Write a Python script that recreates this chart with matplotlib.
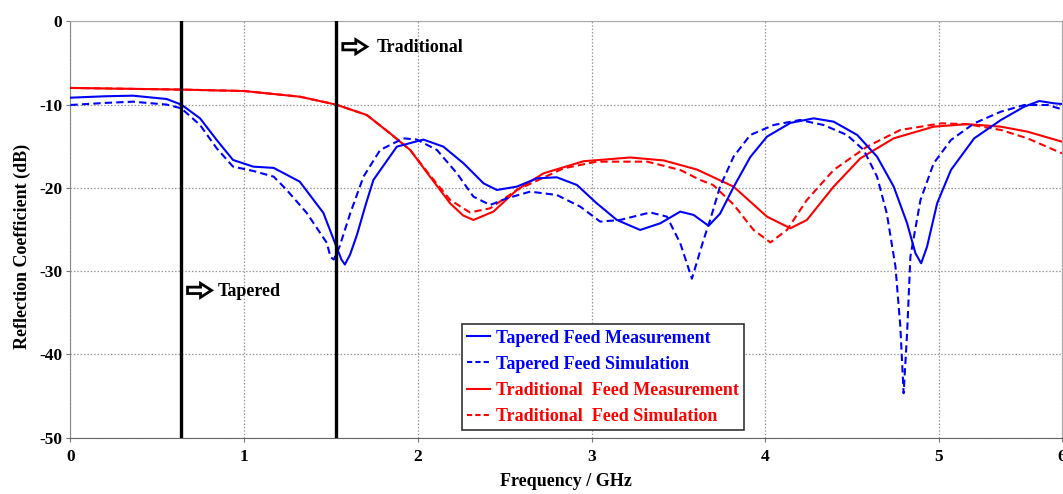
import numpy as np
import matplotlib
matplotlib.use("Agg")
import matplotlib.pyplot as plt
import matplotlib.transforms as mtransforms
from matplotlib.patches import Polygon
from matplotlib.lines import Line2D

# ---------------- data ----------------
tap_meas_x = [0, 0.2, 0.36, 0.554, 0.638, 0.746, 0.842, 0.936, 1.053, 1.17, 1.32, 1.456, 1.53, 1.56, 1.58, 1.61,
              1.65, 1.70, 1.744, 1.879, 2.032, 2.147, 2.263, 2.378, 2.455, 2.57, 2.686, 2.80, 2.916, 3.03, 3.146,
              3.28, 3.396, 3.511, 3.588, 3.674, 3.74, 3.818, 3.914, 4.01, 4.145, 4.279, 4.394, 4.53, 4.644, 4.74,
              4.817, 4.865, 4.898, 4.932, 4.99, 5.098, 5.287, 5.504, 5.694, 5.816, 5.938, 6.0]
tap_meas_y = [-9.17, -9.0, -8.93, -9.33, -10.0, -11.65, -14.25, -16.65, -17.45, -17.6, -19.25, -23.0, -27.0, -28.6,
              -29.2, -28.0, -25.6, -22.0, -19.05, -15.05, -14.2, -15.05, -17.05, -19.45, -20.25, -19.85, -18.85,
              -18.73, -19.65, -21.85, -23.85, -25.05, -24.25, -22.85, -23.25, -24.55, -23.1, -19.9, -16.3, -13.85,
              -12.2, -11.65, -12.05, -13.65, -16.25, -19.85, -24.25, -27.85, -29.05, -27.05, -21.85, -17.85, -14.05,
              -11.85, -10.25, -9.57, -9.85, -9.93]

tap_sim_x = [0, 0.2, 0.36, 0.554, 0.638, 0.746, 0.842, 0.936, 1.053, 1.17, 1.245, 1.36, 1.476, 1.497, 1.516, 1.55,
             1.61, 1.687, 1.783, 1.917, 1.994, 2.11, 2.225, 2.32, 2.416, 2.513, 2.647, 2.80, 2.935, 3.05, 3.165,
             3.338, 3.434, 3.511, 3.578, 3.645, 3.683, 3.74, 3.818, 3.914, 4.049, 4.20, 4.336, 4.471, 4.567, 4.644,
             4.70, 4.75, 4.778, 4.797, 4.817, 4.836, 4.894, 4.97, 5.098, 5.287, 5.504, 5.694, 5.884, 6.0]
tap_sim_y = [-10.05, -9.8, -9.65, -10.0, -10.45, -12.45, -15.25, -17.45, -17.97, -18.65, -20.25, -23.0, -26.6, -28.3,
             -28.6, -27.0, -23.1, -18.65, -15.45, -14.05, -14.2, -15.45, -18.25, -21.05, -22.05, -21.25, -20.45,
             -20.85, -22.25, -24.05, -23.85, -22.95, -23.45, -26.65, -30.9, -26.25, -23.85, -19.85, -16.25, -13.65,
             -12.45, -11.85, -12.45, -13.65, -15.45, -18.65, -23.05, -29.45, -36.65, -44.65, -37.45, -28.25, -21.45,
             -17.05, -14.25, -12.25, -10.85, -10.05, -10.05, -10.57]

trad_meas_x = [0, 0.638, 1.0, 1.32, 1.529, 1.706, 1.84, 1.956, 2.07, 2.186, 2.26, 2.32, 2.435, 2.57, 2.724, 2.954,
               3.223, 3.415, 3.607, 3.818, 4.01, 4.145, 4.24, 4.394, 4.548, 4.74, 4.97, 5.232, 5.504, 5.72, 6.0]
trad_meas_y = [-8.0, -8.2, -8.37, -9.05, -10.0, -11.25, -13.45, -15.45, -18.65, -21.85, -23.3, -23.85, -22.85,
               -20.25, -18.25, -16.8, -16.35, -16.7, -17.8, -19.85, -23.45, -24.85, -23.85, -19.85, -16.45, -14.05,
               -12.65, -12.35, -12.65, -13.25, -14.45]

trad_sim_x = [0, 0.638, 1.0, 1.32, 1.529, 1.706, 1.84, 1.956, 2.07, 2.186, 2.30, 2.416, 2.57, 2.839, 3.03, 3.32,
              3.511, 3.626, 3.70, 3.818, 3.933, 4.03, 4.125, 4.24, 4.394, 4.586, 4.778, 5.02, 5.232, 5.504, 5.72, 6.0]
trad_sim_y = [-8.0, -8.2, -8.37, -9.05, -10.0, -11.25, -13.45, -15.45, -18.5, -21.45, -22.95, -22.45, -20.25, -17.65,
              -16.85, -16.85, -17.85, -19.05, -19.65, -22.0, -25.05, -26.55, -25.05, -21.45, -17.85, -15.05, -13.05,
              -12.25, -12.35, -13.05, -14.05, -15.85]

marker_lines = [0.638, 1.529]
x_ticks = [0, 1, 2, 3, 4, 5, 6]
y_ticks = [0, -10, -20, -30, -40, -50]
labels = ["Tapered Feed Measurement", "Tapered Feed Simulation",
          "Traditional  Feed Measurement", "Traditional  Feed Simulation"]

# ---------------- figure ----------------
serif = ["Liberation Serif", "DejaVu Serif"]
plt.rcParams["font.family"] = serif
plt.rcParams["font.weight"] = "bold"
plt.rcParams["axes.unicode_minus"] = False

fig = plt.figure(figsize=(10.63, 4.94), dpi=100)
ax = fig.add_axes([0.0663, 0.1138, 0.9327, 0.8431])

# the reference's last interval (5 to 6) is drawn compressed
K = 0.7085
def fwd(x):
    x = np.asarray(x, dtype=float)
    return np.where(x <= 5, x, 5 + (x - 5) * K)
def inv(x):
    x = np.asarray(x, dtype=float)
    return np.where(x <= 5, x, 5 + (x - 5) / K)
ax.set_xscale("function", functions=(fwd, inv))

lw = 1.5
ax.plot(tap_meas_x, tap_meas_y, color="#0000ff", lw=lw, ls="-", label=labels[0], zorder=4)
ax.plot(tap_sim_x, tap_sim_y, color="#0000ff", lw=lw, ls=(0, (3.5, 2)), label=labels[1], zorder=4)
ax.plot(trad_meas_x, trad_meas_y, color="#ff0000", lw=lw, ls="-", label=labels[2], zorder=3)
ax.plot(trad_sim_x, trad_sim_y, color="#ff0000", lw=lw, ls=(0, (3.5, 2)), label=labels[3], zorder=3)

for xv in marker_lines:
    ax.axvline(xv, color="black", lw=2.4, zorder=5)

ax.set_xlim(0, 6)
ax.set_ylim(-50, 0)
ax.set_xticks(x_ticks)
ax.set_yticks(y_ticks)
ax.grid(True, color="#999999", ls=(0, (1.2, 1.5)), lw=0.9)
ax.tick_params(axis="both", labelsize=12.5, length=3, color="#777777", pad=3)
for lab in ax.get_xticklabels() + ax.get_yticklabels():
    lab.set_fontweight("bold")
ax.tick_params(axis="x", pad=5)
for s in ["left", "top", "right"]:
    ax.spines[s].set_color("#aaaaaa")
ax.spines["bottom"].set_color("#666666")
ax.spines["left"].set_color("#888888")

ax.set_xlabel("Frequency / GHz", fontsize=13, fontweight="bold", labelpad=6)
ax.set_ylabel("Reflection Coefficient (dB)", fontsize=13, fontweight="bold")
ax.yaxis.set_label_coords(-0.040, 0.46)

# hollow block arrows (shape in pixels at 100 dpi, anchored at a data point)
arrow_px = [(-12, -3.2), (1, -3.2), (1, -7), (12, 0), (1, 7), (1, 3.2), (-12, 3.2)]
def block_arrow(x, y):
    tr = fig.dpi_scale_trans + mtransforms.ScaledTranslation(x, y, ax.transData)
    pts = [(px / 100.0, py / 100.0) for px, py in arrow_px]
    ax.add_patch(Polygon(pts, closed=True, facecolor="white", edgecolor="black", lw=2.0,
                         transform=tr, zorder=6, clip_on=False))

block_arrow(0.743, -32.3)
ax.text(0.85, -32.4, "Tapered", fontsize=13, fontweight="bold", va="center", ha="left", zorder=6)
block_arrow(1.637, -3.05)
ax.text(1.764, -3.15, "Traditional", fontsize=13, fontweight="bold", va="center", ha="left", zorder=6)

handles = [Line2D([], [], color="#0000ff", lw=1.5, ls="-"),
           Line2D([], [], color="#0000ff", lw=1.5, ls=(0, (2.5, 1.5))),
           Line2D([], [], color="#ff0000", lw=1.5, ls="-"),
           Line2D([], [], color="#ff0000", lw=1.5, ls=(0, (2.5, 1.5)))]
leg = ax.legend(handles, labels, loc="lower left", bbox_to_anchor=(0.3945, 0.018),
                prop={"family": serif, "weight": "bold", "size": 13},
                frameon=True, fancybox=False, edgecolor="#333333", framealpha=1,
                handlelength=1.25, handletextpad=0.35, labelspacing=0.5, borderpad=0.3,
                borderaxespad=0)
leg.get_frame().set_linewidth(1.2)
for t, c in zip(leg.get_texts(), ["#0000ff", "#0000ff", "#ff0000", "#ff0000"]):
    t.set_color(c)
leg.set_zorder(7)

fig.savefig("out.png", dpi=100)
